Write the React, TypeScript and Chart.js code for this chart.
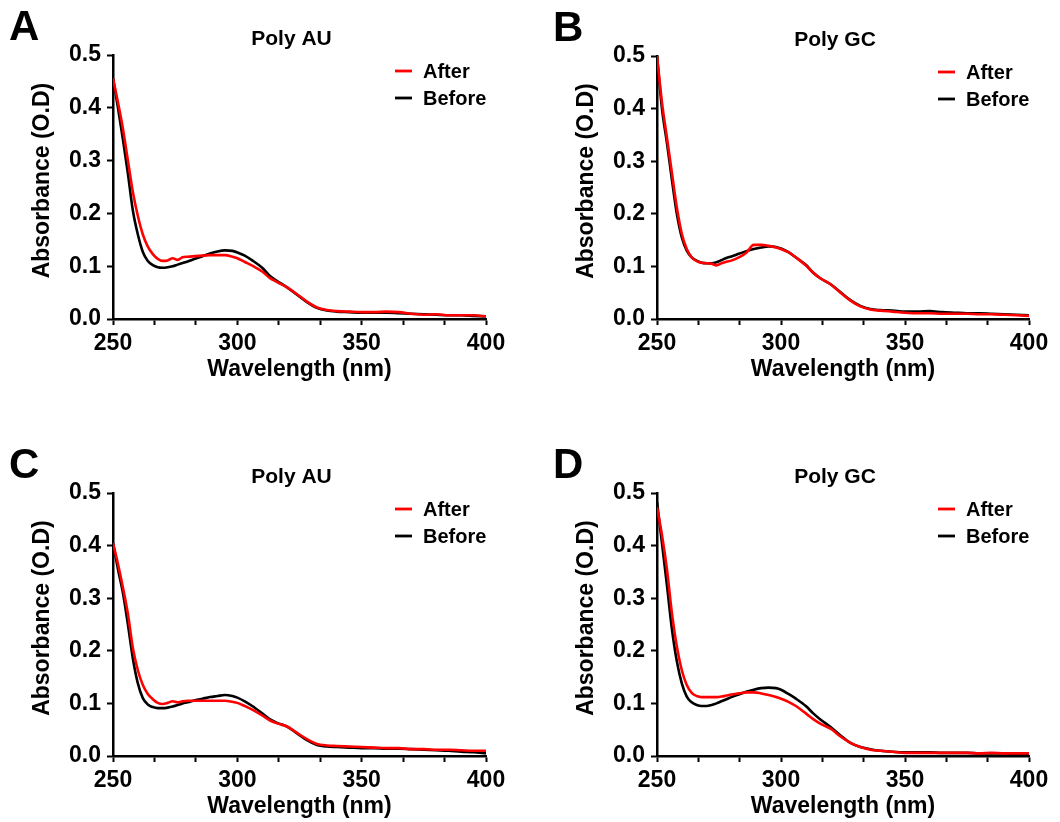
import React, { useEffect, useRef } from 'react';
import { Chart, registerables } from 'chart.js';

Chart.register(...registerables);

// ---------- data ----------
const wavelengths = [
  250, 252, 254, 256, 258, 260, 262, 264, 266, 268,
  270, 272, 274, 276, 278, 280, 283, 286, 289, 292,
  295, 298, 300, 303, 306, 310, 313, 316, 320, 324,
  328, 332, 336, 340, 345, 350, 355, 360, 365, 370,
  375, 380, 385, 390, 395, 400,
];

const panelAAfter = [
  0.456, 0.410, 0.360, 0.300, 0.240, 0.195, 0.160, 0.137, 0.123, 0.114,
  0.110, 0.111, 0.115, 0.112, 0.117, 0.118, 0.119, 0.120, 0.121, 0.121,
  0.121, 0.118, 0.115, 0.108, 0.101, 0.090, 0.078, 0.070, 0.060, 0.047,
  0.033, 0.022, 0.017, 0.015, 0.014, 0.013, 0.013, 0.014, 0.013, 0.010,
  0.008, 0.009, 0.007, 0.007, 0.007, 0.005,
];
const panelABefore = [
  0.456, 0.400, 0.340, 0.275, 0.205, 0.160, 0.127, 0.110, 0.102, 0.098,
  0.097, 0.098, 0.100, 0.103, 0.106, 0.109, 0.114, 0.119, 0.124, 0.128,
  0.130, 0.129, 0.126, 0.120, 0.111, 0.097, 0.082, 0.072, 0.060, 0.046,
  0.032, 0.021, 0.016, 0.014, 0.013, 0.012, 0.012, 0.012, 0.011, 0.010,
  0.009, 0.008, 0.007, 0.007, 0.006, 0.005,
];

const panelBAfter = [
  0.500, 0.412, 0.345, 0.278, 0.212, 0.162, 0.133, 0.117, 0.110, 0.107,
  0.106, 0.105, 0.102, 0.106, 0.109, 0.111, 0.117, 0.126, 0.141, 0.141,
  0.139, 0.136, 0.133, 0.127, 0.117, 0.102, 0.088, 0.077, 0.066, 0.050,
  0.035, 0.024, 0.018, 0.016, 0.014, 0.012, 0.011, 0.011, 0.010, 0.010,
  0.010, 0.009, 0.009, 0.008, 0.007, 0.006,
];
const panelBBefore = [
  0.500, 0.400, 0.335, 0.265, 0.200, 0.155, 0.130, 0.117, 0.111, 0.107,
  0.106, 0.106, 0.108, 0.112, 0.116, 0.119, 0.124, 0.129, 0.133, 0.136,
  0.138, 0.137, 0.134, 0.127, 0.117, 0.103, 0.088, 0.077, 0.066, 0.051,
  0.036, 0.025, 0.019, 0.017, 0.016, 0.014, 0.014, 0.015, 0.013, 0.012,
  0.011, 0.011, 0.010, 0.009, 0.008, 0.007,
];

const panelCAfter = [
  0.405, 0.365, 0.320, 0.270, 0.205, 0.163, 0.135, 0.118, 0.108, 0.101,
  0.099, 0.101, 0.104, 0.102, 0.104, 0.105, 0.105, 0.105, 0.105, 0.105,
  0.105, 0.103, 0.101, 0.095, 0.088, 0.077, 0.068, 0.062, 0.056, 0.044,
  0.032, 0.023, 0.020, 0.019, 0.018, 0.017, 0.016, 0.015, 0.015, 0.013,
  0.013, 0.012, 0.012, 0.011, 0.010, 0.010,
];
const panelCBefore = [
  0.405, 0.355, 0.310, 0.250, 0.185, 0.138, 0.110, 0.098, 0.093, 0.091,
  0.091, 0.092, 0.094, 0.097, 0.100, 0.102, 0.106, 0.109, 0.112, 0.114,
  0.116, 0.114, 0.111, 0.104, 0.095, 0.081, 0.070, 0.063, 0.056, 0.043,
  0.030, 0.021, 0.018, 0.017, 0.016, 0.015, 0.015, 0.014, 0.014, 0.013,
  0.012, 0.011, 0.010, 0.008, 0.007, 0.005,
];

const panelDAfter = [
  0.473, 0.420, 0.355, 0.272, 0.208, 0.163, 0.135, 0.120, 0.114, 0.112,
  0.112, 0.112, 0.112, 0.113, 0.115, 0.117, 0.119, 0.121, 0.121, 0.119,
  0.116, 0.112, 0.109, 0.103, 0.095, 0.081, 0.070, 0.061, 0.052, 0.037,
  0.025, 0.017, 0.012, 0.010, 0.008, 0.006, 0.006, 0.006, 0.006, 0.006,
  0.006, 0.005, 0.006, 0.005, 0.005, 0.005,
];
const panelDBefore = [
  0.483, 0.405, 0.325, 0.242, 0.180, 0.138, 0.113, 0.102, 0.097, 0.095,
  0.095, 0.097, 0.100, 0.104, 0.108, 0.112, 0.117, 0.122, 0.126, 0.129,
  0.130, 0.129, 0.126, 0.118, 0.109, 0.095, 0.081, 0.069, 0.055, 0.039,
  0.025, 0.017, 0.013, 0.010, 0.008, 0.007, 0.007, 0.007, 0.006, 0.006,
  0.006, 0.005, 0.005, 0.005, 0.004, 0.004,
];

const seriesLabels = ['After', 'Before'];
const seriesColors = ['#ff0000', '#000000'];

const xTickValues = [250, 266.667, 283.333, 300, 316.667, 333.333, 350, 366.667, 383.333, 400];
const xTickLabels = ['250', '', '', '300', '', '', '350', '', '', '400'];
const yTickValues = [0, 0.1, 0.2, 0.3, 0.4, 0.5];
const yTickLabels = ['0.0', '0.1', '0.2', '0.3', '0.4', '0.5'];

const FONT = "'Liberation Sans', Arial, Helvetica, sans-serif";

const decorPlugin = {
  id: 'panelDecor',
  afterDraw(chart: any, _args: any, opts: any) {
    const { ctx, chartArea } = chart;
    const { left, right, top } = chartArea;
    ctx.save();
    ctx.fillStyle = '#000';
    ctx.font = `bold 42px ${FONT}`;
    ctx.textAlign = 'left';
    ctx.textBaseline = 'alphabetic';
    ctx.fillText(opts.letter, left - 104, top - 15);
    ctx.font = `bold 21px ${FONT}`;
    ctx.textAlign = 'center';
    ctx.textBaseline = 'middle';
    ctx.fillText(opts.title, (left + right) / 2 - 8, top - 16);
    ctx.font = `bold 20px ${FONT}`;
    chart.data.datasets.forEach((ds: any, i: number) => {
      const y = top + 16 + i * 27;
      ctx.strokeStyle = ds.borderColor;
      ctx.lineWidth = 2.8;
      ctx.beginPath();
      ctx.moveTo(right - 91, y);
      ctx.lineTo(right - 74, y);
      ctx.stroke();
      ctx.fillStyle = '#000';
      ctx.textAlign = 'left';
      ctx.fillText(ds.label, right - 63, y + 1);
    });
    ctx.restore();
  },
};

type PanelProps = {
  letter: string;
  title: string;
  after: number[];
  before: number[];
  x: number;
  y: number;
  area: { L: number; R: number; T: number; B: number };
};

const W = 530;
const H = 411;

function Panel({ letter, title, after, before, x, y, area }: PanelProps) {
  const ref = useRef<HTMLCanvasElement | null>(null);
  useEffect(() => {
    if (!ref.current) return;
    const { L, R, T, B } = area;
    const titleFontSize = 23;
    const half = (titleFontSize * 1.2) / 2;
    const chart = new Chart(ref.current, {
      type: 'line',
      data: {
        datasets: [
          {
            label: seriesLabels[0],
            data: wavelengths.map((w, i) => ({ x: w, y: after[i] })),
            borderColor: seriesColors[0],
            backgroundColor: seriesColors[0],
            borderWidth: 2.6,
            pointRadius: 0,
            cubicInterpolationMode: 'monotone',
          },
          {
            label: seriesLabels[1],
            data: wavelengths.map((w, i) => ({ x: w, y: before[i] })),
            borderColor: seriesColors[1],
            backgroundColor: seriesColors[1],
            borderWidth: 2.6,
            pointRadius: 0,
            cubicInterpolationMode: 'monotone',
          },
        ],
      },
      options: {
        animation: false,
        responsive: false,
        maintainAspectRatio: false,
        layout: { padding: { left: 0, top: T, right: W - R, bottom: 0 } },
        plugins: {
          legend: { display: false },
          tooltip: { enabled: false },
          panelDecor: { letter, title },
        } as any,
        scales: {
          x: {
            type: 'linear',
            min: 250,
            max: 400,
            afterFit: (s: any) => { s.height = H - B; },
            afterBuildTicks: (s: any) => { s.ticks = xTickValues.map((v) => ({ value: v })); },
            ticks: {
              autoSkip: false,
              maxRotation: 0,
              padding: 5,
              color: '#000',
              font: { family: FONT, size: 23, weight: 'bold' },
              callback: (_v: any, i: number) => xTickLabels[i],
            },
            grid: { drawOnChartArea: false, drawTicks: true, tickLength: 6, tickColor: '#000', tickWidth: 2 },
            border: { display: true, color: '#000', width: 2.5 },
            title: {
              display: true,
              text: 'Wavelength (nm)',
              color: '#000',
              font: { family: FONT, size: titleFontSize, weight: 'bold' },
              padding: { top: 0, bottom: H - (B + 51) - half },
            },
          },
          y: {
            type: 'linear',
            min: 0,
            max: 0.5,
            afterFit: (s: any) => { s.width = L; },
            afterBuildTicks: (s: any) => { s.ticks = yTickValues.map((v) => ({ value: v })); },
            ticks: {
              autoSkip: false,
              padding: 6,
              color: '#000',
              font: { family: FONT, size: 23, weight: 'bold' },
              callback: (_v: any, i: number) => yTickLabels[i],
            },
            grid: { drawOnChartArea: false, drawTicks: true, tickLength: 6, tickColor: '#000', tickWidth: 2 },
            border: { display: true, color: '#000', width: 2.5 },
            title: {
              display: true,
              text: '  Absorbance (O.D)',
              color: '#000',
              font: { family: FONT, size: titleFontSize, weight: 'bold' },
              padding: { top: L - 70.5 - half, bottom: 0 },
            },
          },
        },
      } as any,
      plugins: [decorPlugin as any],
    });
    return () => chart.destroy();
  }, []);
  return (
    <canvas
      ref={ref}
      width={W}
      height={H}
      style={{ position: 'absolute', left: x, top: y, width: W, height: H, display: 'block' }}
    />
  );
}

export default function App() {
  return (
    <div style={{ position: 'absolute', left: 0, top: 0, width: 1060, height: 822, background: '#fff', overflow: 'hidden' }}>
      <Panel letter="A" title="Poly AU" after={panelAAfter} before={panelABefore} x={0} y={0}
        area={{ L: 113, R: 486, T: 55, B: 319 }} />
      <Panel letter="B" title="Poly GC" after={panelBAfter} before={panelBBefore} x={530} y={0}
        area={{ L: 127, R: 499, T: 56, B: 319 }} />
      <Panel letter="C" title="Poly AU" after={panelCAfter} before={panelCBefore} x={0} y={411}
        area={{ L: 113, R: 486, T: 82, B: 345 }} />
      <Panel letter="D" title="Poly GC" after={panelDAfter} before={panelDBefore} x={530} y={411}
        area={{ L: 127, R: 499, T: 82, B: 345 }} />
    </div>
  );
}
